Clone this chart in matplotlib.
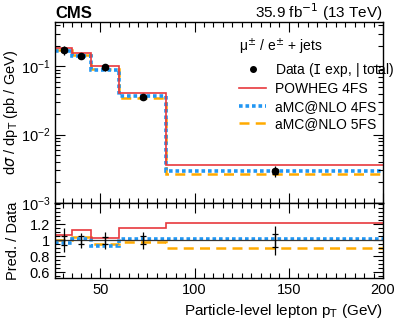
import numpy as np
import matplotlib
matplotlib.use("Agg")
import matplotlib.pyplot as plt
from matplotlib.ticker import MultipleLocator, FixedLocator, LogLocator, NullFormatter
from matplotlib.lines import Line2D

plt.rcParams['font.family'] = ['Liberation Sans', 'DejaVu Sans']
plt.rcParams['mathtext.fontset'] = 'dejavusans'

# bin edges in lepton pT (GeV)
edges = [26, 35, 45, 60, 85, 200]
centers = [30.5, 40, 52.5, 72.5, 142.5]

# measured cross section (pb/GeV)
data = [0.175, 0.140, 0.097, 0.0356, 0.0029]
# relative uncertainties
err_exp = [0.055, 0.05, 0.04, 0.05, 0.08]
err_tot = [0.15, 0.095, 0.11, 0.105, 0.18]

# predictions (pb/GeV)
powheg4 = [0.186, 0.158, 0.100, 0.0413, 0.00353]
amc4 = [0.170, 0.143, 0.090, 0.0363, 0.00296]
amc5 = [0.175, 0.146, 0.092, 0.0349, 0.00261]

c_red = '#E8383D'
c_blue = '#2196F3'
c_orange = '#FFAA00'

fig = plt.figure(figsize=(3.99, 3.22), dpi=100)
ax = fig.add_axes([0.138, 0.370, 0.822, 0.562])
rx = fig.add_axes([0.138, 0.137, 0.822, 0.233], sharex=ax)

data = np.array(data)
err_exp = np.array(err_exp)
err_tot = np.array(err_tot)

preds = [(powheg4, c_red, '-', 1.2, 'POWHEG 4FS'),
         (amc4, c_blue, (0, (1, 0.8)), 2.6, 'aMC@NLO 4FS'),
         (amc5, c_orange, (0, (4, 2.5)), 1.8, 'aMC@NLO 5FS')]

# main panel
for vals, col, ls, lw, lab in preds[::-1]:
    ax.stairs(vals, edges, color=col, linestyle=ls, linewidth=lw, baseline=None)
ax.errorbar(centers, data, yerr=data * err_tot, fmt='none', ecolor='black', elinewidth=0.9)
ax.errorbar(centers, data, yerr=data * err_exp, fmt='o', color='black', ms=4.5,
            elinewidth=0.9, capsize=2.5, capthick=0.9)
ax.set_yscale('log')
ax.set_ylim(1e-3, 0.45)
ax.set_xlim(26, 200)
ax.set_ylabel(r'd$\sigma$ / dp$_\mathrm{T}$ (pb / GeV)', fontsize=10.5)
ax.yaxis.set_major_locator(LogLocator(base=10, numticks=10))
ax.yaxis.set_minor_locator(LogLocator(base=10, subs=np.arange(2, 10), numticks=10))
ax.yaxis.set_minor_formatter(NullFormatter())

# ratio panel
rx.axhline(1.0, color='#333333', lw=0.9)
for vals, col, ls, lw, lab in preds[::-1]:
    rx.stairs(np.array(vals) / data, edges, color=col, linestyle=ls, linewidth=lw, baseline=None)
ones = np.ones(len(data))
rx.errorbar(centers, ones, yerr=err_tot, fmt='none', ecolor='black', elinewidth=0.9)
rx.errorbar(centers, ones, yerr=err_exp, fmt='none', ecolor='black', elinewidth=0.9,
            capsize=2.5, capthick=0.9)
rx.set_ylim(0.53, 1.47)
rx.yaxis.set_major_locator(FixedLocator([0.6, 0.8, 1.0, 1.2]))
rx.yaxis.set_minor_locator(MultipleLocator(0.05))
rx.set_yticklabels(['0.6', '0.8', '1', '1.2'])
rx.set_ylabel('Pred. / Data', fontsize=10.5)
rx.set_xlabel(r'Particle-level lepton p$_\mathrm{T}$ (GeV)', fontsize=11, loc='right')
rx.xaxis.set_major_locator(FixedLocator([50, 100, 150, 200]))
rx.xaxis.set_minor_locator(MultipleLocator(5))

for a in (ax, rx):
    a.tick_params(which='both', direction='in', top=True, right=True, labelsize=10.5)
    a.tick_params(which='major', length=7, width=0.8)
    a.tick_params(which='minor', length=3.5, width=0.8)
    for s in a.spines.values():
        s.set_linewidth(1.0)
ax.tick_params(axis='x', labelbottom=False)
ax.yaxis.set_label_coords(-0.108, 0.5)
rx.yaxis.set_label_coords(-0.108, 0.5)

# legend
handles = [Line2D([], [], marker='o', color='black', ls='none', ms=4),
           Line2D([], [], color=c_red, lw=1.2),
           Line2D([], [], color=c_blue, lw=2.6, ls=(0, (1, 0.8))),
           Line2D([], [], color=c_orange, lw=1.8, ls=(0, (4, 2.5)))]
labels = [r'Data ($\mathtt{I}$ exp, | total)', 'POWHEG 4FS', 'aMC@NLO 4FS', 'aMC@NLO 5FS']
leg = ax.legend(handles, labels, title='μ$^{\\pm}$ / e$^{\\pm}$ + jets', loc='upper left',
                bbox_to_anchor=(0.53, 0.97), frameon=False, fontsize=10, title_fontsize=10,
                alignment='left', handlelength=2.0, handletextpad=0.6, labelspacing=0.25,
                borderpad=0.2)

fig.text(0.14, 1 - 18 / 322, 'CMS', fontsize=12, fontweight='bold', ha='left', va='baseline')
fig.text(0.96, 1 - 18 / 322, r'35.9 fb$^{-1}$ (13 TeV)', fontsize=11, ha='right', va='baseline')

fig.savefig('out.png', dpi=100)
